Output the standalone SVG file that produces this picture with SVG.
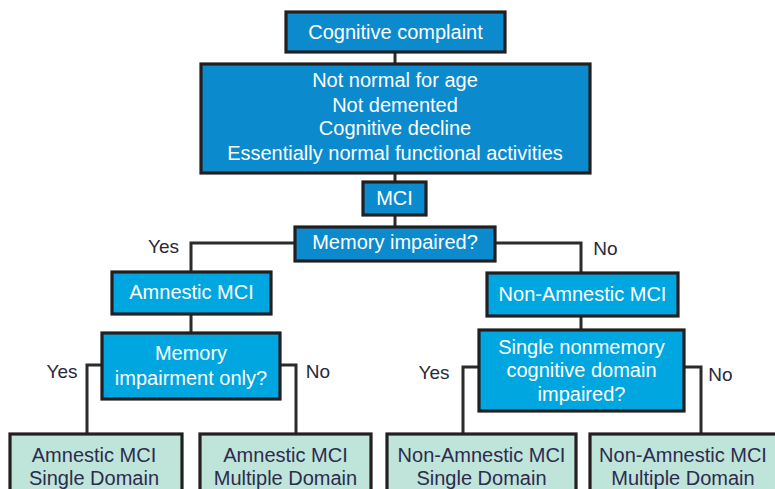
<svg xmlns="http://www.w3.org/2000/svg" width="775" height="489" viewBox="0 0 775 489">
<style>
.dark{fill:#0b8ace;stroke:#231f20;stroke-width:3.2}
.light{fill:#00a6df;stroke:#231f20;stroke-width:3.2}
.leaf{fill:#bfe4d9;stroke:#231f20;stroke-width:3.2}
.wt{font-family:"Liberation Sans",Arial,sans-serif;font-size:20px;fill:#ffffff;text-anchor:middle}
.lt{font-family:"Liberation Sans",Arial,sans-serif;font-size:20px;fill:#2d2b4f;text-anchor:middle}
.lab{font-family:"Liberation Sans",Arial,sans-serif;font-size:19px;fill:#2a2838;text-anchor:middle}
.conn{fill:none;stroke:#2b2b2b;stroke-width:3}
</style>
<rect width="775" height="489" fill="#ffffff"/>
<g id="connectors">
<path class="conn" d="M395 52V64"/>
<path class="conn" d="M395 173V182"/>
<path class="conn" d="M395 215V227"/>
<path class="conn" d="M295 243H191V272"/>
<path class="conn" d="M495 243H581V273"/>
<path class="conn" d="M191 314V333"/>
<path class="conn" d="M581 316V330"/>
<path class="conn" d="M102 365H87V434"/>
<path class="conn" d="M280 365H296V434"/>
<path class="conn" d="M479 367H463V434"/>
<path class="conn" d="M684 367H701V434"/>
<text class="lab" x="163.5" y="252.5">Yes</text>
<text class="lab" x="605.5" y="254.5">No</text>
<text class="lab" x="62" y="378">Yes</text>
<text class="lab" x="318" y="377.5">No</text>
<text class="lab" x="434" y="378.5">Yes</text>
<text class="lab" x="720.5" y="381">No</text>
</g>
<g id="complaint">
<rect class="dark" x="286" y="12" width="219" height="40"/>
<text class="wt" x="395.5" y="38.5">Cognitive complaint</text>
</g>
<g id="criteria">
<rect class="dark" x="201" y="64" width="389" height="109"/>
<text class="wt" x="395" y="87">Not normal for age</text>
<text class="wt" x="395" y="112">Not demented</text>
<text class="wt" x="395" y="135">Cognitive decline</text>
<text class="wt" x="395" y="160">Essentially normal functional activities</text>
</g>
<g id="mci">
<rect class="dark" x="363" y="182" width="63" height="33"/>
<text class="wt" x="394.5" y="205">MCI</text>
</g>
<g id="memory-impaired">
<rect class="dark" x="295" y="227" width="200" height="34"/>
<text class="wt" x="395" y="249">Memory impaired?</text>
</g>
<g id="amnestic">
<rect class="light" x="112" y="272" width="159" height="42"/>
<text class="wt" x="191.5" y="299">Amnestic MCI</text>
</g>
<g id="non-amnestic">
<rect class="light" x="487" y="273" width="191" height="43"/>
<text class="wt" x="582.5" y="301">Non-Amnestic MCI</text>
</g>
<g id="memory-only">
<rect class="light" x="102" y="333" width="178" height="66"/>
<text class="wt" x="191" y="360">Memory</text>
<text class="wt" x="191" y="384.5">impairment only?</text>
</g>
<g id="single-nonmemory">
<rect class="light" x="479" y="330" width="205" height="81"/>
<text class="wt" x="581.5" y="354">Single nonmemory</text>
<text class="wt" x="581.5" y="377">cognitive domain</text>
<text class="wt" x="581.5" y="400.5">impaired?</text>
</g>
<g id="amnestic-single">
<rect class="leaf" x="10" y="434" width="172" height="70"/>
<text class="lt" x="94" y="462">Amnestic MCI</text>
<text class="lt" x="94" y="485">Single Domain</text>
</g>
<g id="amnestic-multiple">
<rect class="leaf" x="200" y="434" width="171" height="70"/>
<text class="lt" x="285.5" y="462">Amnestic MCI</text>
<text class="lt" x="285.5" y="485">Multiple Domain</text>
</g>
<g id="nonamnestic-single">
<rect class="leaf" x="387" y="434" width="189" height="70"/>
<text class="lt" x="481.5" y="462">Non-Amnestic MCI</text>
<text class="lt" x="481.5" y="485">Single Domain</text>
</g>
<g id="nonamnestic-multiple">
<rect class="leaf" x="590" y="434" width="190" height="70"/>
<text class="lt" x="683" y="462">Non-Amnestic MCI</text>
<text class="lt" x="683" y="485">Multiple Domain</text>
</g>
</svg>
